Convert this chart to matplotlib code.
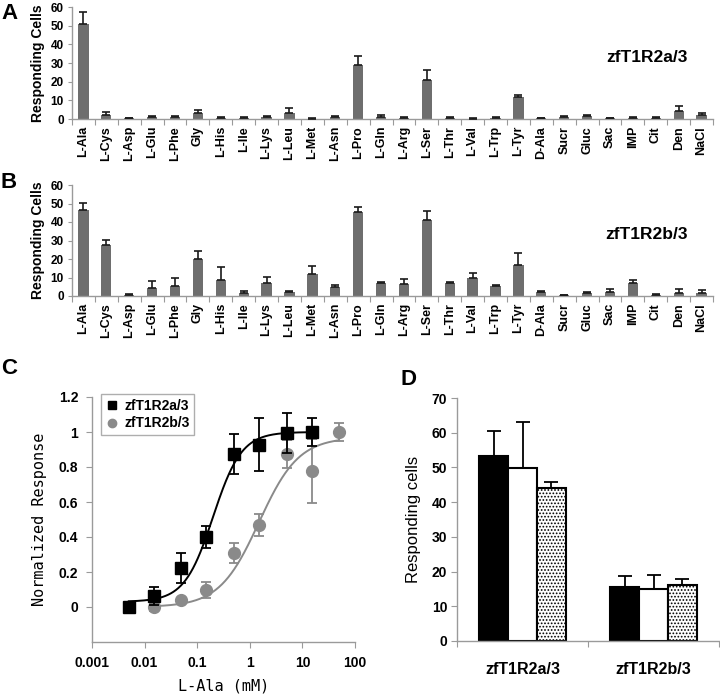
import numpy as np
import matplotlib
matplotlib.use("Agg")
import matplotlib.pyplot as plt
from matplotlib.lines import Line2D

plt.rcParams['font.family'] = ['Liberation Sans', 'DejaVu Sans']
plt.rcParams['hatch.linewidth'] = 0.8

# ---------------- data ----------------
categories = ['L-Ala', 'L-Cys', 'L-Asp', 'L-Glu', 'L-Phe', 'Gly', 'L-His', 'L-Ile', 'L-Lys',
              'L-Leu', 'L-Met', 'L-Asn', 'L-Pro', 'L-Gln', 'L-Arg', 'L-Ser', 'L-Thr', 'L-Val',
              'L-Trp', 'L-Tyr', 'D-Ala', 'Sucr', 'Gluc', 'Sac', 'IMP', 'Cit', 'Den', 'NaCl']

a_vals = [51, 2.1, 0.5, 1.0, 1.0, 3.0, 0.8, 0.8, 1.2, 3.4, 0.2, 1.0, 29, 1.2, 0.7, 21,
          0.6, 0.2, 0.8, 11.8, 0.5, 1.0, 1.5, 0.5, 0.8, 0.6, 4.3, 2.1]
a_errs = [6.1, 1.6, 0.2, 0.8, 0.5, 1.8, 0.3, 0.3, 0.5, 2.3, 0.1, 0.5, 5.0, 0.8, 0.2, 5.2,
          0.3, 0.1, 0.5, 1.3, 0.2, 0.5, 0.5, 0.2, 0.3, 0.3, 2.7, 0.9]

b_vals = [46.5, 27.7, 0.7, 4.3, 5.6, 19.8, 8.8, 1.8, 7.0, 2.2, 11.7, 4.9, 45.2, 6.8, 6.7, 41.1,
          7.0, 9.5, 5.2, 16.8, 2.2, 0.3, 1.6, 2.0, 7.0, 0.8, 1.8, 1.8]
b_errs = [3.6, 2.4, 0.2, 3.6, 3.9, 4.3, 6.9, 1.1, 3.1, 0.6, 4.7, 0.9, 2.7, 0.6, 2.7, 4.8,
          0.4, 3.1, 0.6, 6.3, 0.5, 0.1, 0.4, 2.0, 1.6, 0.3, 2.2, 1.3]

conc_a = [0.005, 0.015, 0.05, 0.15, 0.5, 1.5, 5, 15]
resp_a = [0.0, 0.063, 0.223, 0.40, 0.876, 0.928, 0.994, 1.0]
err_a = [0.0, 0.05, 0.085, 0.065, 0.115, 0.15, 0.115, 0.08]

conc_b = [0.015, 0.05, 0.15, 0.5, 1.5, 5, 15, 50]
resp_b = [0.0, 0.042, 0.099, 0.31, 0.47, 0.874, 0.777, 1.0]
err_b = [0.02, 0.01, 0.045, 0.057, 0.062, 0.08, 0.185, 0.05]

# Hill fit parameters (bottom, top, EC50, Hill coefficient)
fit_a = dict(bottom=0.03, top=1.0, ec50=0.2, n=1.6)
fit_b = dict(bottom=0.0, top=0.97, ec50=1.5, n=1.15)

d_groups = ['zfT1R2a/3', 'zfT1R2b/3']
d_black = [53.3, 15.5]
d_black_err = [7.2, 3.3]
d_white = [49.7, 15.1]
d_white_err = [13.4, 4.0]
d_dot = [44.2, 16.2]
d_dot_err = [1.6, 1.8]

# ---------------- figure ----------------
W, H = 720, 698
fig = plt.figure(figsize=(W / 100, H / 100), dpi=100)


def rect(x0, y0, x1, y1):
    return [x0 / W, 1 - y1 / H, (x1 - x0) / W, (y1 - y0) / H]


AX_GRAY = '#9a9a9a'
BAR_GRAY = '#6e6e6e'


def style_spines(ax):
    for s in ['top', 'right']:
        ax.spines[s].set_visible(False)
    for s in ['left', 'bottom']:
        ax.spines[s].set_color(AX_GRAY)
        ax.spines[s].set_linewidth(1.0)
    ax.tick_params(colors=AX_GRAY, labelcolor='black', direction='out')


def bar_panel(ax, vals, errs, title):
    x = np.arange(len(categories))
    ax.bar(x, vals, width=0.45, color=BAR_GRAY, edgecolor='none', zorder=2)
    ax.errorbar(x, vals, yerr=[np.zeros(len(vals)), errs], fmt='none', ecolor='#1a1a1a',
                elinewidth=1.2, capsize=3, capthick=1.2, zorder=3)
    ax.set_xlim(-0.5, len(categories) - 0.5)
    ax.set_ylim(0, 60)
    ax.set_yticks([0, 10, 20, 30, 40, 50, 60])
    ax.set_yticklabels(['0', '10', '20', '30', '40', '50', '60'], fontsize=8.5, fontweight='bold')
    ax.set_xticks(np.arange(len(categories) + 1) - 0.5)
    ax.set_xticklabels([])
    ax.tick_params(axis='x', length=4)
    ax.tick_params(axis='y', length=3, pad=3)
    for i, c in enumerate(categories):
        ax.annotate(c, xy=(i, 0), xycoords=('data', 'axes fraction'), xytext=(0, -5),
                    textcoords='offset points', rotation=90, ha='center', va='top',
                    fontsize=9, fontweight='bold')
    ax.set_ylabel('Responding Cells', fontsize=10, fontweight='bold', labelpad=4)
    ax.text(0.897, 0.55, title, transform=ax.transAxes, fontsize=12.5, fontweight='bold',
            ha='center', va='center')
    style_spines(ax)


axA = fig.add_axes(rect(72, 7, 713, 119))
bar_panel(axA, a_vals, a_errs, 'zfT1R2a/3')
axB = fig.add_axes(rect(72, 185, 713, 296))
bar_panel(axB, b_vals, b_errs, 'zfT1R2b/3')

# ---------------- panel C ----------------
axC = fig.add_axes(rect(92, 397, 355, 642))
axC.set_xscale('log')


def hill(x, p):
    return p['bottom'] + (p['top'] - p['bottom']) * x ** p['n'] / (x ** p['n'] + p['ec50'] ** p['n'])


xa = np.logspace(np.log10(conc_a[0]), np.log10(conc_a[-1]), 300)
xb = np.logspace(np.log10(conc_b[0]), np.log10(conc_b[-1]), 300)
GRAY_C = '#8a8a8a'
axC.plot(xb, hill(xb, fit_b), color=GRAY_C, lw=1.4, zorder=2)
axC.plot(xa, hill(xa, fit_a), color='black', lw=1.4, zorder=3)
axC.errorbar(conc_b, resp_b, yerr=err_b, fmt='o', color=GRAY_C, ms=8.5, mec=GRAY_C,
             ecolor=GRAY_C, elinewidth=1.3, capsize=3.5, capthick=1.3, zorder=4)
axC.errorbar(conc_a, resp_a, yerr=err_a, fmt='s', color='black', ms=8.5,
             ecolor='black', elinewidth=1.3, capsize=3.5, capthick=1.3, zorder=5)
axC.set_xlim(0.001, 100)
axC.set_ylim(-0.2, 1.2)
axC.set_yticks([0, 0.2, 0.4, 0.6, 0.8, 1.0, 1.2])
axC.set_yticklabels(['0', '0.2', '0.4', '0.6', '0.8', '1', '1.2'], fontsize=10, fontweight='bold')
axC.set_xticks([0.001, 0.01, 0.1, 1, 10, 100])
axC.set_xticklabels(['0.001', '0.01', '0.1', '1', '10', '100'], fontsize=10, fontweight='bold')
axC.minorticks_off()
axC.tick_params(axis='both', length=4, pad=6)
axC.set_xlabel('L-Ala (mM)', fontsize=11, family=['DejaVu Sans Mono'], labelpad=6)
axC.set_ylabel('Normalized Response', fontsize=11, family=['DejaVu Sans Mono'], labelpad=8)
style_spines(axC)
handles = [Line2D([], [], marker='s', color='black', ls='none', ms=6),
           Line2D([], [], marker='o', color=GRAY_C, ls='none', ms=6)]
leg = axC.legend(handles, ['zfT1R2a/3', 'zfT1R2b/3'], loc='upper left',
                 bbox_to_anchor=(0.035, 1.012), prop={'weight': 'bold', 'size': 10},
                 frameon=True, fancybox=False, handlelength=0.8, handletextpad=0.5,
                 borderpad=0.35, labelspacing=0.25, borderaxespad=0)
leg.get_frame().set_edgecolor(AX_GRAY)
leg.get_frame().set_linewidth(1.0)

# ---------------- panel D ----------------
axD = fig.add_axes(rect(457, 398, 719, 641))
centers = np.array([0.5, 1.5])
bw = 0.22
ekw = dict(fmt='none', ecolor='black', elinewidth=1.3, capsize=5, capthick=1.3, zorder=4)
axD.bar(centers - bw, d_black, width=bw, color='black', edgecolor='black', lw=1.5, zorder=2)
axD.errorbar(centers - bw, d_black, yerr=[[0, 0], d_black_err], **ekw)
axD.bar(centers, d_white, width=bw, color='white', edgecolor='black', lw=1.5, zorder=2)
axD.errorbar(centers, d_white, yerr=[[0, 0], d_white_err], **ekw)
axD.bar(centers + bw, d_dot, width=bw, color='white', edgecolor='black', lw=1.5,
        hatch='.....', zorder=2)
axD.errorbar(centers + bw, d_dot, yerr=[[0, 0], d_dot_err], **ekw)
axD.set_xlim(0, 2)
axD.set_ylim(0, 70)
axD.set_yticks(range(0, 71, 10))
axD.set_yticklabels([str(v) for v in range(0, 71, 10)], fontsize=10, fontweight='bold')
axD.set_xticks([0, 1, 2])
axD.set_xticklabels([])
axD.tick_params(axis='x', length=4)
axD.tick_params(axis='y', length=4, pad=3)
for c, g in zip(centers, d_groups):
    axD.annotate(g, xy=(c, 0), xycoords=('data', 'axes fraction'), xytext=(0, -15),
                 textcoords='offset points', ha='center', va='top', fontsize=11.5,
                 fontweight='bold')
axD.set_ylabel('Responding cells', fontsize=12, labelpad=8)
style_spines(axD)

# ---------------- panel letters ----------------
for letter, (px, py) in {'A': (1, 19), 'B': (1, 188), 'C': (1, 374), 'D': (400, 385)}.items():
    fig.text(px / W, 1 - py / H, letter, fontsize=16, fontweight='bold', ha='left', va='baseline')

fig.savefig('out.png', dpi=100)
